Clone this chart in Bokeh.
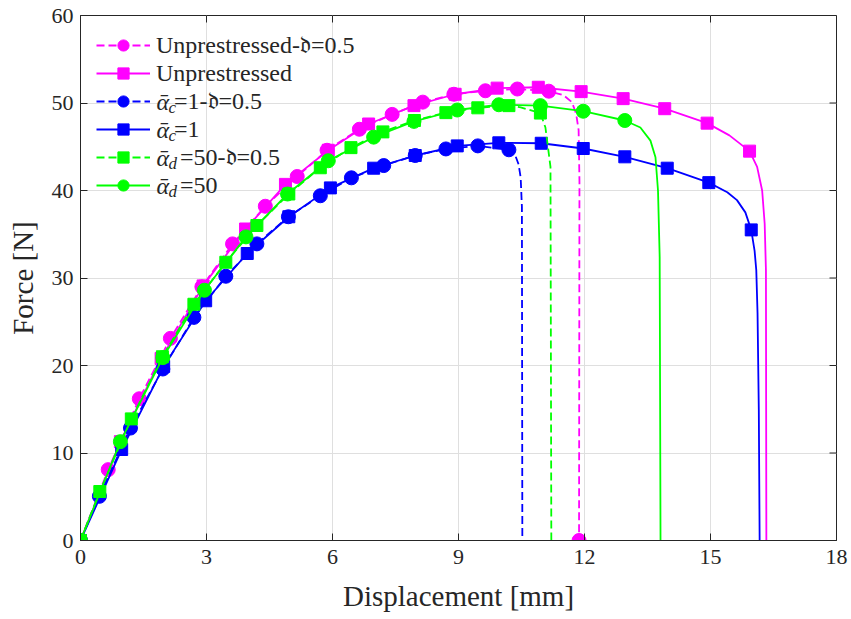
from bokeh.plotting import figure
from bokeh.models import Range1d, FixedTicker, Legend, LegendItem, Label
from bokeh.embed import file_html
from bokeh.resources import INLINE

# ---------------- data ----------------
x_ticks = [0, 3, 6, 9, 12, 15, 18]
y_ticks = [0, 10, 20, 30, 40, 50, 60]

# Unprestressed - d=0.5 (magenta, dashed, circles)
unp05_x = [0, 0.66, 1.40, 2.14, 2.89, 3.62, 4.40, 5.16, 5.87, 6.64, 7.42, 8.15, 8.89, 9.64, 10.40, 11.15,
           11.50, 11.70, 11.80, 11.86, 11.88, 11.87]
unp05_y = [0, 8.1, 16.2, 23.1, 29.0, 33.9, 38.2, 41.6, 44.6, 47.0, 48.7, 50.1, 51.0, 51.4, 51.6, 51.35,
           50.9, 50.1, 48.8, 46.9, 41.0, 0]
unp05_mk = list(range(16)) + [21]

# Unprestressed (magenta, solid, squares)
unp_x = [0, 0.95, 1.92, 2.92, 3.93, 4.88, 5.90, 6.86, 7.94, 8.92, 9.92, 10.90, 11.92, 12.92, 13.91, 14.92,
         15.45, 15.93, 16.11, 16.23, 16.29, 16.32, 16.33]
unp_y = [0, 11.3, 20.8, 29.1, 35.6, 40.7, 44.6, 47.6, 49.7, 51.0, 51.7, 51.8, 51.3, 50.5, 49.35, 47.7,
         46.3, 44.5, 42.7, 40.0, 36.2, 30.9, 0]
unp_mk = list(range(16)) + [17]

# alpha_c = 1 - d=0.5 (blue, dashed, circles)
ac05_x = [0, 0.45, 1.19, 1.96, 2.70, 3.46, 4.20, 4.95, 5.71, 6.45, 7.22, 7.97, 8.70, 9.46, 10.20,
          10.33, 10.43, 10.48, 10.51, 10.52]
ac05_y = [0, 5.05, 12.85, 19.6, 25.5, 30.2, 33.9, 37.0, 39.4, 41.45, 42.85, 44.0, 44.75, 45.1, 44.65,
          44.3, 43.0, 41.5, 38.1, 0]
ac05_mk = list(range(15))

# alpha_c = 1 (blue, solid, squares)
ac_x = [0, 0.98, 1.98, 2.98, 3.97, 4.96, 5.95, 6.98, 7.97, 8.97, 9.96, 10.97, 11.97, 12.96, 13.97, 14.96,
        15.40, 15.63, 15.83, 15.97, 16.05, 16.09, 16.12, 16.15, 16.17]
ac_y = [0, 10.4, 19.9, 27.4, 32.8, 37.0, 40.3, 42.55, 44.0, 45.1, 45.45, 45.4, 44.8, 43.85, 42.55, 40.9,
        39.8, 38.9, 37.5, 35.5, 33.1, 30.9, 26.0, 15.0, 0]
ac_mk = list(range(16)) + [19]

# alpha_d = 50 - d=0.5 (green, dashed, squares)
ad05_x = [0, 0.46, 1.21, 1.95, 2.70, 3.46, 4.20, 4.96, 5.71, 6.44, 7.20, 7.95, 8.70, 9.46, 10.20,
          10.48, 10.95, 11.07, 11.19, 11.21]
ad05_y = [0, 5.6, 13.9, 21.0, 27.0, 31.8, 36.0, 39.6, 42.6, 44.9, 46.7, 48.0, 48.9, 49.45, 49.7,
          49.5, 48.85, 47.2, 42.7, 0]
ad05_mk = list(range(15)) + [16]

# alpha_d = 50 (green, solid, circles)
ad_x = [0, 0.95, 1.96, 2.95, 3.94, 4.93, 5.90, 6.98, 7.94, 8.97, 9.96, 10.95, 11.97, 12.96,
        13.33, 13.57, 13.69, 13.75, 13.79, 13.81]
ad_y = [0, 11.3, 20.9, 28.6, 34.7, 39.6, 43.4, 46.1, 47.9, 49.2, 49.8, 49.7, 49.06, 48.0,
        47.2, 45.7, 43.8, 40.0, 32.4, 0]
ad_mk = list(range(14))

# ---------------- styling ----------------
MAG, BLU, GRN = "#FF00FF", "#0000FF", "#00FF00"
AX = "#262626"
SERIF = "Liberation Serif"
DASH = "8 4"

X0, X1, Y0, Y1 = 0, 18, 0, 60
FW, FH = 756, 525   # frame size in px
p = figure(width=851, height=619, output_backend="svg", toolbar_location=None,
           x_range=Range1d(X0, X1), y_range=Range1d(Y0, Y1),
           min_border_left=80, min_border_right=15, min_border_top=15, min_border_bottom=79)
p.background_fill_color = "white"
p.border_fill_color = "white"
p.outline_line_color = AX
p.outline_line_width = 1

for ax, ticks in ((p.xaxis[0], x_ticks), (p.yaxis[0], y_ticks)):
    ax.ticker = FixedTicker(ticks=ticks)
    ax.major_tick_in = 7
    ax.major_tick_out = 0
    ax.minor_tick_in = 0
    ax.minor_tick_out = 0
    ax.axis_line_color = AX
    ax.major_tick_line_color = AX
    ax.major_label_text_font = SERIF
    ax.major_label_text_font_size = "22px"
    ax.major_label_text_color = AX
    ax.axis_label_text_font = SERIF
    ax.axis_label_text_font_size = "29px"
    ax.axis_label_text_font_style = "normal"
    ax.axis_label_text_color = AX

p.xaxis[0].axis_label = "Displacement [mm]"
p.yaxis[0].axis_label = "Force [N]"
p.xaxis[0].major_label_standoff = 9
p.yaxis[0].major_label_standoff = 7
p.xaxis[0].axis_label_standoff = 13
p.yaxis[0].axis_label_standoff = 10

p.xgrid.ticker = FixedTicker(ticks=x_ticks)
p.ygrid.ticker = FixedTicker(ticks=y_ticks)
p.grid.grid_line_color = "#dfdfdf"
p.grid.grid_line_width = 1

# inward tick marks on the top and right edges of the box
dx = 7 * (X1 - X0) / FW
dy = 7 * (Y1 - Y0) / FH
p.segment(x0=x_ticks, y0=[Y1] * len(x_ticks), x1=x_ticks, y1=[Y1 - dy] * len(x_ticks),
          line_color=AX, line_width=1)
p.segment(x0=[X1] * len(y_ticks), y0=y_ticks, x1=[X1 - dx] * len(y_ticks), y1=y_ticks,
          line_color=AX, line_width=1)

series = [
    (unp05_x, unp05_y, unp05_mk, MAG, DASH, "circle"),
    (unp_x, unp_y, unp_mk, MAG, "solid", "square"),
    (ac05_x, ac05_y, ac05_mk, BLU, DASH, "circle"),
    (ac_x, ac_y, ac_mk, BLU, "solid", "square"),
    (ad05_x, ad05_y, ad05_mk, GRN, DASH, "square"),
    (ad_x, ad_y, ad_mk, GRN, "solid", "circle"),
]

frak = "\U0001D521"
SP_C = "\u2002\u2005"      # room for the overlaid alpha-bar with subscript c
SP_D = "\u2003"            # room for the overlaid alpha-bar with subscript d
legend_labels = [
    "Unprestressed-" + frak + "=0.5",
    "Unprestressed",
    SP_C + "=1-" + frak + "=0.5",
    SP_C + "=1",
    SP_D + "=50-" + frak + "=0.5",
    SP_D + "=50",
]
legend_alpha = [None, None, "c", "c", "d", "d"]

items = []
for (xs, ys, mk, col, dash, marker), lab in zip(series, legend_labels):
    lr = p.line(xs, ys, line_color=col, line_width=1.8, line_dash=dash)
    mx = [xs[i] for i in mk]
    my = [ys[i] for i in mk]
    size = 14 if marker == "circle" else 12
    sr = p.scatter(mx, my, marker=marker, size=size, fill_color=col, line_color=col)
    items.append(LegendItem(label=lab, renderers=[lr, sr]))

ROW0, PITCH = 30, 28
legend = Legend(items=items, location="top_left", margin=10, padding=6,
                glyph_width=54, glyph_height=28, label_height=28, spacing=0, label_standoff=6,
                label_text_font=SERIF, label_text_font_size="24px", label_text_color=AX,
                background_fill_alpha=0, border_line_alpha=0)
p.add_layout(legend)

# alpha-bar with subscript, overlaid in the reserved space of the legend labels
def lx(px):
    return X0 + px * (X1 - X0) / FW
def ly(py):
    return Y1 - py * (Y1 - Y0) / FH

for i, sub in enumerate(legend_alpha):
    if sub is None:
        continue
    yc = ROW0 + PITCH * i
    p.add_layout(Label(x=lx(76), y=ly(yc), text="\u1FB1", text_font=SERIF, text_font_size="24px",
                       text_font_style="italic", text_color=AX, text_baseline="middle"))
    p.add_layout(Label(x=lx(88), y=ly(yc + 6), text=sub, text_font=SERIF, text_font_size="17px",
                       text_font_style="italic", text_color=AX, text_baseline="middle"))

open("out.html", "w").write(file_html(p, INLINE))
